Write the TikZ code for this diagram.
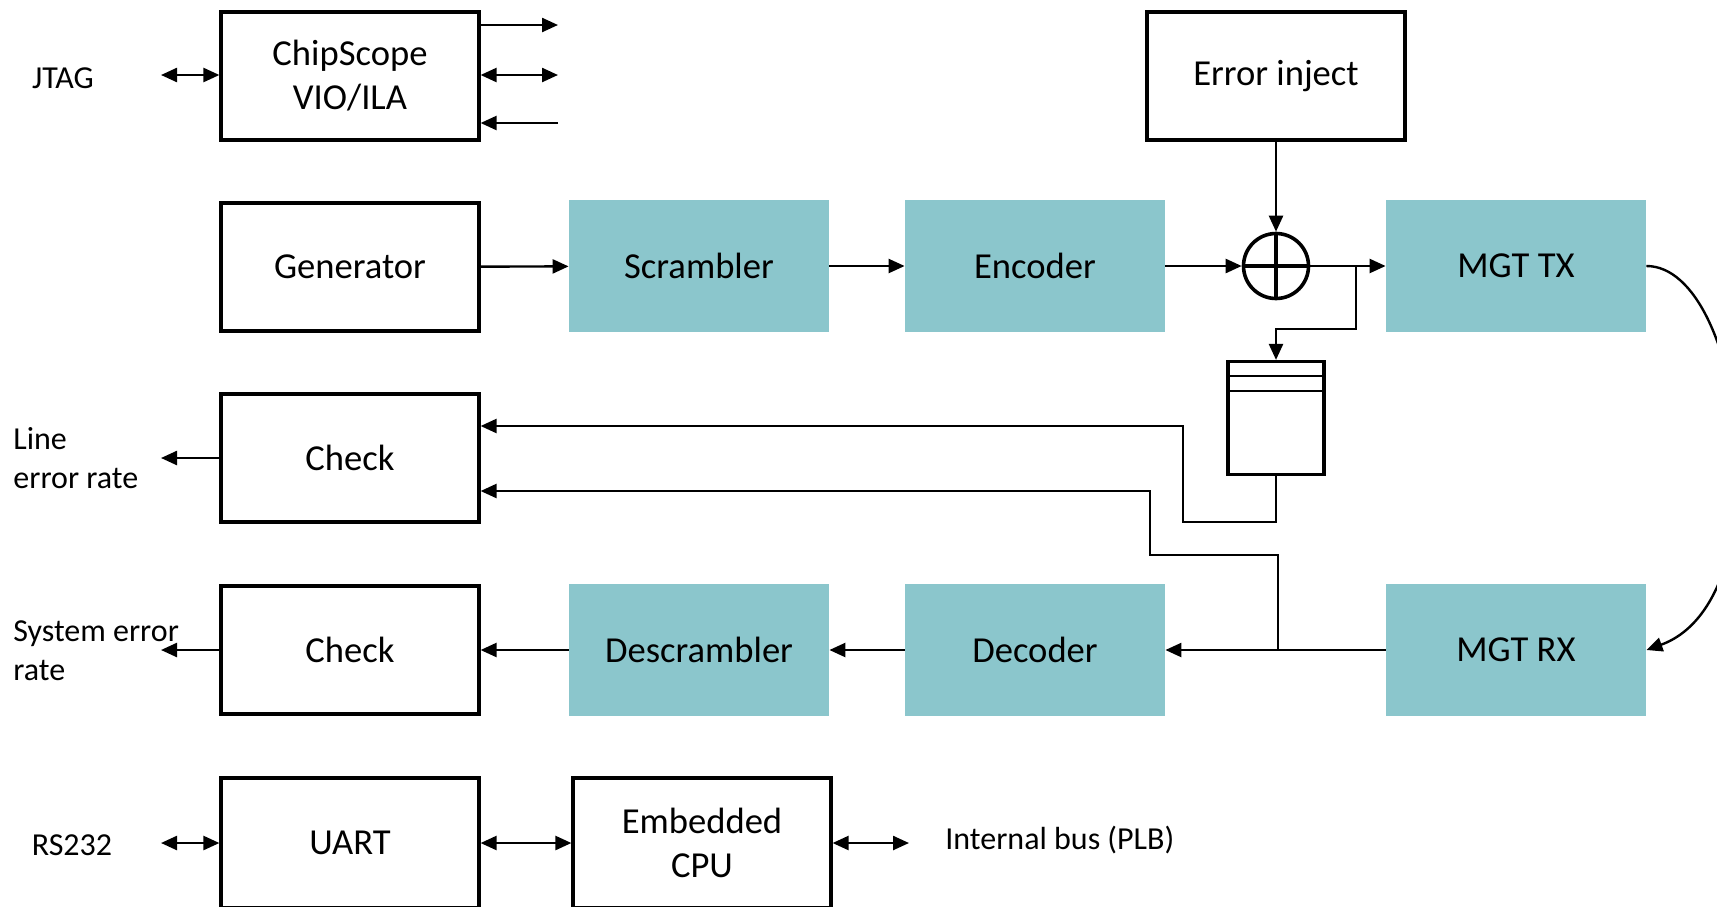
\documentclass[tikz,border=0pt]{standalone}
\usepackage{fontspec}
\setmainfont{Carlito}
\usetikzlibrary{arrows.meta,calc}
\definecolor{tealbox}{RGB}{139,198,204}
\tikzset{
  wbox/.style={draw=black,line width=1.6pt,fill=white,minimum width=129pt,minimum height=64pt,inner sep=0pt,align=center,font=\fontsize{18.3pt}{22pt}\selectfont},
  tbox/.style={fill=tealbox,minimum width=130pt,minimum height=66pt,inner sep=0pt,align=center,font=\fontsize{18.3pt}{22pt}\selectfont},
  lbl/.style={inner sep=0pt,align=left,font=\fontsize{16pt}{19.5pt}\selectfont},
  conn/.style={line width=1.2pt},
  arr/.style={conn,-{Triangle[length=8pt,width=7pt]}},
  darr/.style={conn,{Triangle[length=8pt,width=7pt]}-{Triangle[length=8pt,width=7pt]}},
}
\begin{document}
\begin{tikzpicture}[x=0.5pt,y=-0.5pt]
\clip (0,0) rectangle (1717,906);
\fill[white] (0,0) rectangle (1717,906);
% boxes
\node[wbox] (chip) at (350,76) {ChipScope\\VIO/ILA};
\node[wbox] (err) at (1276,76) {Error inject};
\node[wbox] (gen) at (350,267) {Generator};
\node[tbox] (scr) at (699,266) {Scrambler};
\node[tbox] (enc) at (1035,266) {Encoder};
\node[tbox] (tx) at (1516,266) {MGT TX};
\node[wbox] (chk1) at (350,458) {Check};
\node[wbox] (chk2) at (350,650) {Check};
\node[tbox] (dscr) at (699,650) {Descrambler};
\node[tbox] (dec) at (1035,650) {Decoder};
\node[tbox] (rx) at (1516,650) {MGT RX};
\node[wbox,minimum height=65pt] (uart) at (350,843) {UART};
\node[wbox,minimum height=65pt] (cpu) at (702,843) {Embedded\\CPU};
% xor
\node[draw,circle,line width=1.8pt,minimum size=32.5pt,inner sep=0pt] (xor) at (1276,266) {};
\draw[line width=1.8pt] (xor.north) -- (xor.south) (xor.west) -- (xor.east);
% fifo
\node[draw,line width=1.6pt,minimum width=48pt,minimum height=56.5pt,inner sep=0pt] (fifo) at (1276,418) {};
\draw[line width=1.2pt] ([yshift=-8pt]fifo.north west) -- ([yshift=-8pt]fifo.north east);
\draw[line width=1.2pt] ([yshift=-15.5pt]fifo.north west) -- ([yshift=-15.5pt]fifo.north east);
% labels
\node[lbl] (jtag) at (63,78) {JTAG};
\node[lbl,anchor=west] (ler) at (13,458) {Line\\error rate};
\node[lbl,anchor=west] (ser) at (13,651) {System error\\rate};
\node[lbl] (rs) at (72,845) {RS232};
\node[lbl,anchor=west] (ibus) at (945,840) {Internal bus (PLB)};
% free ends
\coordinate (jt) at (161,75);
\coordinate (o1) at (558,25);
\coordinate (o2) at (558,75);
\coordinate (o3) at (558,123);
\coordinate (l1) at (161,458);
\coordinate (l2) at (161,650);
\coordinate (rs1) at (161,843);
\coordinate (pb) at (909,843);
\coordinate (br) at (1356,266);
\coordinate (brd) at (1276,329);
\coordinate (fb) at (1183,522);
\coordinate (jn) at (1278,650);
\coordinate (jb) at (1150,555);
% connectors
\draw[darr] (jt) -- (o2 -| chip.west);
\draw[arr] (chip.east |- o1) -- (o1);
\draw[darr] (chip.east |- o2) -- (o2);
\draw[arr] (o3) -- (chip.east |- o3);
\draw[arr] (gen) -- (scr);
\draw[arr] (scr) -- (enc);
\draw[arr] (enc) -- (xor);
\draw[arr] (xor) -- (tx);
\draw[arr] (err) -- (xor);
\draw[arr] (br) |- (brd) -- (fifo.north);
\draw[arr] (fifo.south) |- (fb) |- ([yshift=16pt]chk1.east);
\draw[arr] (jn) |- (jb) |- ([yshift=-16.5pt]chk1.east);
\draw[arr] (tx.east) .. controls (1745,266) and (1785,600) .. (rx.east);
\draw[arr] (rx) -- (dec);
\draw[arr] (dec) -- (dscr);
\draw[arr] (dscr) -- (chk2);
\draw[arr] (chk1) -- (l1);
\draw[arr] (chk2) -- (l2);
\draw[darr] (rs1) -- (uart.west);
\draw[darr] (uart) -- (cpu);
\draw[darr] (cpu.east) -- (pb);
\end{tikzpicture}
\end{document}
